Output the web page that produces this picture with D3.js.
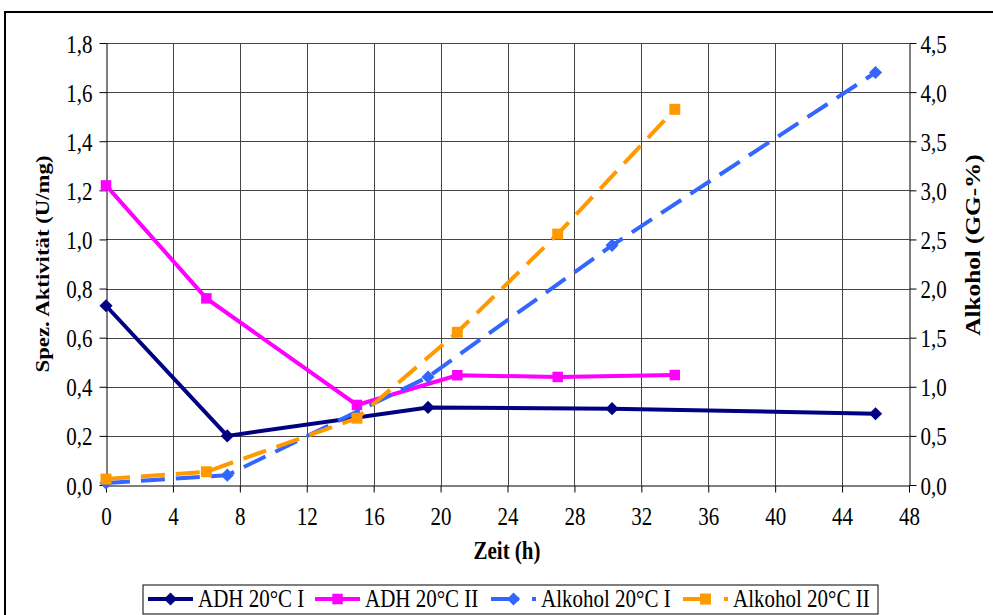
<!DOCTYPE html>
<html>
<head>
<meta charset="utf-8">
<script src="https://cdn.jsdelivr.net/npm/d3@7"></script>
<style>
  body { margin: 0; background: #fff; }
  svg { display: block; }
  text { font-family: "Liberation Serif", "Times New Roman", serif; fill: #000; }
</style>
</head>
<body>
<div id="chart"></div>
<script>
// ADH activity (left axis, U/mg)
const adh1Time = [0, 7.25, 19.25, 30.25, 46];
const adh1Value = [0.73, 0.2, 0.316, 0.311, 0.29];
const adh2Time = [0, 6, 15, 21, 27, 34];
const adh2Value = [1.22, 0.76, 0.326, 0.447, 0.44, 0.448];
// alcohol (right axis, GG-%)
const alk1Time = [0, 7.25, 19.25, 30.25, 46];
const alk1Value = [0.02, 0.1, 1.1, 2.44, 4.2];
const alk2Time = [0, 6, 15, 21, 27, 34];
const alk2Value = [0.06, 0.135, 0.68, 1.555, 2.555, 3.825];

const xTicks = [0, 4, 8, 12, 16, 20, 24, 28, 32, 36, 40, 44, 48];
const yLeftTicks = [0, 0.2, 0.4, 0.6, 0.8, 1.0, 1.2, 1.4, 1.6, 1.8];
const yRightTicks = [0, 0.5, 1.0, 1.5, 2.0, 2.5, 3.0, 3.5, 4.0, 4.5];

const W = 993, H = 615;
const stretch = 1.2; // text in the original is a bit taller than wide
const svg = d3.select('#chart').append('svg')
  .attr('width', W).attr('height', H);

// outer frame
svg.append('rect')
  .attr('x', 5).attr('y', 12)
  .attr('width', W + 20).attr('height', H + 20)
  .attr('fill', 'none').attr('stroke', '#000').attr('stroke-width', 2);

const x = d3.scaleLinear().domain([0, 48]).range([106, 909]);
const yL = d3.scaleLinear().domain([0, 1.8]).range([485, 43]);
const yR = d3.scaleLinear().domain([0, 4.5]).range([485, 43]);

const comma = d => d3.format('.1f')(d).replace('.', ',');

// grid
svg.append('g').selectAll('line').data(yLeftTicks.slice(1)).enter()
  .append('line')
  .attr('x1', x(0)).attr('x2', x(48))
  .attr('y1', d => Math.round(yL(d)) + 0.5).attr('y2', d => Math.round(yL(d)) + 0.5)
  .attr('stroke', '#444').attr('stroke-width', 1);
svg.append('g').selectAll('line').data(xTicks.slice(1, -1)).enter()
  .append('line')
  .attr('x1', d => Math.round(x(d)) + 0.5).attr('x2', d => Math.round(x(d)) + 0.5)
  .attr('y1', yL(1.8)).attr('y2', yL(0))
  .attr('stroke', '#444').attr('stroke-width', 1);

// axes
const axisStyle = (g, dx, base, anchor) => {
  g.attr('font-family', null).attr('font-size', null);
  g.select('.domain').attr('stroke', '#000');
  g.selectAll('.tick line').attr('stroke', '#000');
  g.selectAll('.tick text')
    .attr('x', 0).attr('y', 0).attr('dy', null)
    .attr('text-anchor', anchor)
    .attr('transform', 'translate(' + dx + ',' + base + ') scale(1,' + stretch + ')')
    .style('font-size', '21px');
};

svg.append('g')
  .attr('transform', 'translate(0,' + (yL(0) + 0.5) + ')')
  .call(d3.axisBottom(x).tickValues(xTicks).tickSize(7).tickSizeOuter(0))
  .call(axisStyle, 0, 39, 'middle');

svg.append('g')
  .attr('transform', 'translate(' + (x(0) + 0.5) + ',0)')
  .call(d3.axisLeft(yL).tickValues(yLeftTicks).tickFormat(comma).tickSize(7).tickSizeOuter(0))
  .call(axisStyle, -14, 9, 'end');

svg.append('g')
  .attr('transform', 'translate(' + (x(48) + 0.5) + ',0)')
  .call(d3.axisRight(yR).tickValues(yRightTicks).tickFormat(comma).tickSize(7).tickSizeOuter(0))
  .call(axisStyle, 11, 9, 'start');

// axis titles
svg.append('text')
  .attr('transform', 'translate(49,264) scale(1,' + stretch + ') rotate(-90)')
  .attr('text-anchor', 'middle')
  .style('font-size', '19px').style('font-weight', 'bold')
  .text('Spez. Aktivität (U/mg)');

svg.append('text')
  .attr('transform', 'translate(980,245) scale(1,' + stretch + ') rotate(-90)')
  .attr('text-anchor', 'middle')
  .style('font-size', '21px').style('font-weight', 'bold')
  .text('Alkohol (GG-%)');

svg.append('text')
  .attr('transform', 'translate(507,559) scale(1,' + stretch + ')')
  .attr('text-anchor', 'middle')
  .style('font-size', '21px').style('font-weight', 'bold')
  .text('Zeit (h)');

const series = [
  { name: 'ADH 20°C I', t: adh1Time, v: adh1Value, y: yL, color: '#000080', dash: null, marker: 'diamond', size: 110 },
  { name: 'ADH 20°C II', t: adh2Time, v: adh2Value, y: yL, color: '#FF00FF', dash: null, marker: 'square', size: 110 },
  { name: 'Alkohol 20°C I', t: alk1Time, v: alk1Value, y: yR, color: '#3366FF', dash: '24,11', marker: 'diamond', size: 110 },
  { name: 'Alkohol 20°C II', t: alk2Time, v: alk2Value, y: yR, color: '#FF9900', dash: '24,11', marker: 'square', size: 120 }
];

const symbolOf = s => d3.symbol()
  .type(s.marker === 'diamond' ? d3.symbolDiamond2 : d3.symbolSquare)
  .size(s.size);

series.forEach(s => {
  const pts = s.t.map((t, i) => [t, s.v[i]]);
  const line = d3.line().x(d => x(d[0])).y(d => s.y(d[1]));
  svg.append('path')
    .datum(pts)
    .attr('d', line)
    .attr('fill', 'none')
    .attr('stroke', s.color)
    .attr('stroke-width', 4)
    .attr('stroke-dasharray', s.dash);
  svg.append('g').selectAll('path').data(pts).enter()
    .append('path')
    .attr('transform', d => 'translate(' + x(d[0]) + ',' + s.y(d[1]) + ')')
    .attr('d', symbolOf(s)())
    .attr('fill', s.color);
});

// legend
svg.append('rect')
  .attr('x', 143).attr('y', 585)
  .attr('width', 735).attr('height', 29)
  .attr('fill', '#fff').attr('stroke', '#000').attr('stroke-width', 1);

const legendX = [148, 315, 491, 683];
series.forEach((s, i) => {
  const g = svg.append('g').attr('transform', 'translate(' + legendX[i] + ',599)');
  g.append('line')
    .attr('x1', 0).attr('x2', 45)
    .attr('stroke', s.color).attr('stroke-width', 4)
    .attr('stroke-dasharray', s.dash ? '28,13' : null);
  g.append('path')
    .attr('transform', 'translate(22.5,0)')
    .attr('d', symbolOf(s)())
    .attr('fill', s.color);
  g.append('text')
    .attr('transform', 'translate(50,8) scale(1,' + stretch + ')')
    .style('font-size', '21px')
    .text(s.name);
});
</script>
</body>
</html>
